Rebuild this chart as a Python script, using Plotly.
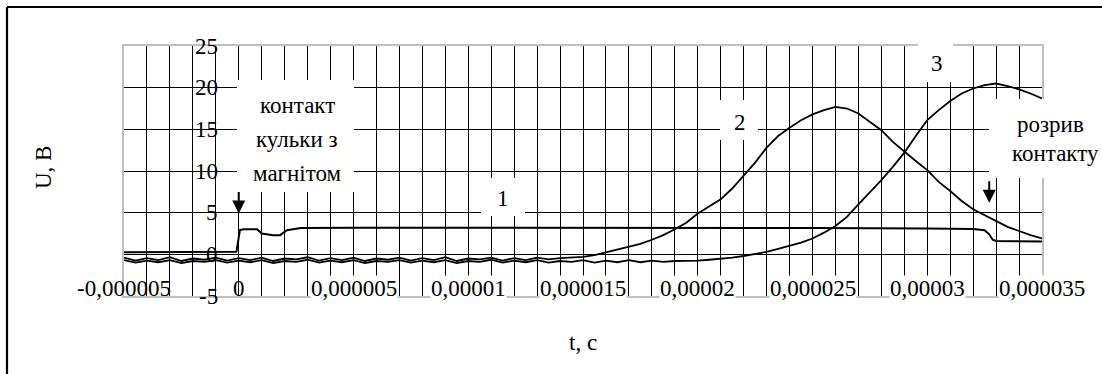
import plotly.graph_objects as go

# ---- data (time in microseconds, voltage in volts) ----
t1_us = [-5, -2, -0.1, 0.05, 0.2, 0.8, 1.0, 1.5, 1.8, 2.1, 2.7, 5, 10, 15, 20, 25, 30, 32.0, 32.5, 32.7, 32.85, 33.0, 35]
u1 = [0.25, 0.25, 0.3, 2.9, 3.0, 3.0, 2.5, 2.3, 2.3, 2.9, 3.15, 3.2, 3.2, 3.15, 3.2, 3.15, 3.1, 3.05, 2.9, 2.4, 1.75, 1.6, 1.55]

# common sampling grid for curves 2 and 3 (microseconds)
t23_us = [-5, -4.5, -4, -3.5, -3, -2.5, -2, -1.5, -1, -0.5, 0, 0.5, 1, 1.5, 2, 2.5, 3, 3.5, 4, 4.5,
          5, 5.5, 6, 6.5, 7, 7.5, 8, 8.5, 9, 9.5, 10, 10.5, 11, 11.5, 12, 12.5, 13, 13.5, 14, 14.5,
          15, 15.5, 16, 16.5, 17, 17.5, 18, 18.5, 19, 19.5, 20, 20.5, 21, 21.5, 22, 22.5, 23, 23.5, 24, 24.5,
          25, 25.5, 26, 26.5, 27, 27.5, 28, 28.5, 29, 29.5, 30, 30.5, 31, 31.5, 32, 32.5, 33, 33.5, 34, 34.5,
          35]
u2 = [-0.4, -0.75, -0.45, -0.7, -0.35, -0.8, -0.5, -0.65, -0.4, -0.75,
      -0.45, -0.7, -0.4, -0.8, -0.5, -0.6, -0.35, -0.75, -0.45, -0.7,
      -0.4, -0.8, -0.5, -0.65, -0.4, -0.75, -0.45, -0.7, -0.35, -0.8,
      -0.5, -0.6, -0.4, -0.75, -0.45, -0.7, -0.4, -0.6, -0.45,
      -0.4, -0.3, -0.1, 0.25, 0.6, 0.95, 1.25, 1.75, 2.3, 3.0, 3.8, 4.9, 5.7, 6.6, 7.9, 9.4, 11.0, 12.8, 14.2, 15.2,
      16.1, 16.8, 17.3, 17.7, 17.5, 16.9, 15.9, 14.9, 13.5, 12.3, 11.2, 10.1, 8.7, 7.6, 6.4, 5.4, 4.7, 3.9, 3.3, 2.8,
      2.3, 1.9]
u3 = [-0.7, -1.0, -0.75, -0.95, -0.7, -1.05, -0.8, -0.9, -0.7, -1.0,
      -0.75, -0.95, -0.7, -1.05, -0.8, -0.9, -0.65, -1.0, -0.75, -0.95,
      -0.7, -1.05, -0.8, -0.9, -0.7, -1.0, -0.75, -0.95, -0.7, -1.05,
      -0.8, -0.9, -0.65, -1.0, -0.75, -0.95, -0.7, -1.0, -0.8, -0.9,
      -0.7, -1.0, -0.75, -0.95, -0.7, -0.95, -0.75, -0.9, -0.8,
      -0.8, -0.75, -0.65, -0.55, -0.4, -0.2, 0.05, 0.3, 0.65, 1.0, 1.4, 1.9, 2.6, 3.4, 4.5, 6.0, 7.4, 8.9, 10.5,
      12.2, 14.2, 16.1, 17.3, 18.4, 19.3, 19.9, 20.3, 20.5, 20.2, 19.8, 19.3, 18.7]

x_tick_us = [-5, 0, 5, 10, 15, 20, 25, 30, 35]
x_tick_text = ["-0,000005", "0", "0,000005", "0,00001", "0,000015", "0,00002", "0,000025", "0,00003", "0,000035"]
y_ticks = [-5, 0, 5, 10, 15, 20, 25]
y_tick_text = ["-5", "0", "5", "10", "15", "20", "25"]

US = 1e-6
FONT = "Liberation Serif, Times New Roman, serif"
FS = 23

# plot area in pixels
L, R, T, B = 124, 60, 46, 78
W, H = 1102, 374
PW, PH = W - L - R, H - T - B


def px(x):
    return (x - L) / PW


def py(y):
    return (H - B - y) / PH


fig = go.Figure()
for tt, uu, lw in [(t23_us, u3, 1.8), (t23_us, u2, 1.8), (t1_us, u1, 2.0)]:
    fig.add_trace(go.Scatter(x=[v * US for v in tt], y=uu, mode="lines",
                             line=dict(color="black", width=lw), showlegend=False,
                             hoverinfo="skip"))

shapes = []
# white masking boxes behind labels
for (x0, x1, y0, y1) in [(237, 354, 80, 192), (481, 525, 178, 216), (720, 758, 100, 140),
                         (918, 953, 40, 82), (989, 1102, 99, 178)]:
    shapes.append(dict(type="rect", xref="paper", yref="paper", x0=px(x0), x1=px(x1),
                       y0=py(y1), y1=py(y0), fillcolor="white", line=dict(width=0), layer="above"))
# outer frame (left and top edges)
shapes.append(dict(type="line", xref="paper", yref="paper", x0=px(7), x1=px(7), y0=py(7), y1=py(400),
                   line=dict(color="black", width=2.2)))
shapes.append(dict(type="line", xref="paper", yref="paper", x0=px(7), x1=px(1120), y0=py(7), y1=py(7),
                   line=dict(color="black", width=2.2)))

ann = []
f = dict(family=FONT, size=FS, color="black")
# x tick labels
for v, s in zip(x_tick_us, x_tick_text):
    ann.append(dict(x=v * US, xref="x", y=py(288), yref="paper", text=s, showarrow=False,
                    xanchor="center", yanchor="middle", font=f,
                    bgcolor="rgba(0,0,0,0)" if v <= 0 else "white", borderpad=0))
# y tick labels
for v, s in zip(y_ticks, y_tick_text):
    ann.append(dict(x=px(220), xref="paper", y=v, yref="y", text=s, showarrow=False,
                    xanchor="right", yanchor="middle", font=f))
# axis titles
ann.append(dict(x=px(43), xref="paper", y=py(168), yref="paper", text="U, B", textangle=-90,
                showarrow=False, font=f, xanchor="center", yanchor="middle"))
ann.append(dict(x=px(583), xref="paper", y=py(342), yref="paper", text="t, c",
                showarrow=False, font=f, xanchor="center", yanchor="middle"))
# text labels
for s, x, y in [("контакт", 297, 105), ("кульки з", 297, 139), ("магнітом", 297, 173),
                ("1", 503, 198), ("2", 740, 122), ("3", 937, 64),
                ("розрив", 1050, 124), ("контакту", 1055, 153)]:
    ann.append(dict(x=px(x), xref="paper", y=py(y), yref="paper", text=s, showarrow=False,
                    font=f, xanchor="center", yanchor="middle"))
# arrows
for tx, vy in [(0.0, 4.9), (32.7, 6.2)]:
    ann.append(dict(x=tx * US, xref="x", y=vy, yref="y", ax=0, ay=-23, axref="pixel", ayref="pixel",
                    showarrow=True, arrowhead=2, arrowsize=1.3, arrowwidth=2, arrowcolor="black", text=""))

fig.update_layout(
    width=W, height=H, margin=dict(l=L, r=R, t=T, b=B, autoexpand=False),
    paper_bgcolor="white", plot_bgcolor="white",
    font=dict(family=FONT, size=FS, color="black"),
    shapes=shapes, annotations=ann,
    xaxis=dict(range=[-5 * US, 35 * US], tick0=0, dtick=1 * US, showgrid=True, gridcolor="black",
               gridwidth=1.3, showticklabels=False, ticks="", zeroline=False, showline=True,
               mirror=True, linecolor="#c0c0c0", linewidth=1.5),
    yaxis=dict(range=[-5, 25], tick0=0, dtick=5, showgrid=True, gridcolor="black", gridwidth=1.3,
               showticklabels=False, ticks="", zeroline=False, showline=True, mirror=True,
               linecolor="#c0c0c0", linewidth=1.5),
)

fig.write_html("out.html", config={"displayModeBar": False},
               post_script="document.body.style.margin='0';document.body.style.overflow='hidden';")
